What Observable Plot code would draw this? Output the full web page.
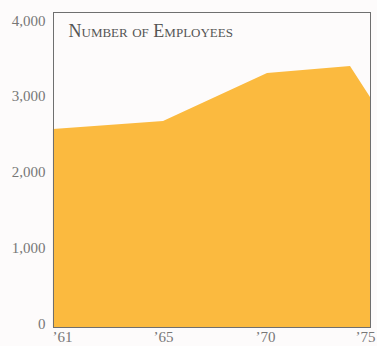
<!DOCTYPE html>
<html>
<head>
<meta charset="utf-8">
<script src="https://cdn.jsdelivr.net/npm/d3@7"></script>
<script src="https://cdn.jsdelivr.net/npm/@observablehq/plot@0.6"></script>
<style>
  html, body { margin: 0; padding: 0; background: #fdfbfb; }
  #chart svg { display: block; background: #fdfbfb; }
</style>
</head>
<body>
<div id="chart"></div>
<script>
// Data
const years = [1960.64, 1965, 1970.1, 1974.25, 1975.25];
const employees = [2565, 2670, 3305, 3398, 2988];
const xTicks = [1961, 1965, 1970, 1975];
const xTickLabels = ["’61", "’65", "’70", "’75"];
const yTicks = [0, 1000, 2000, 3000, 4000];
const title = "Number of Employees";

const data = years.map((year, i) => ({year, value: employees[i]}));
const serif = "'Liberation Serif', 'DejaVu Serif', serif";

const chart = Plot.plot({
  width: 377,
  height: 346,
  marginLeft: 53,
  marginRight: 7,
  marginTop: 12,
  marginBottom: 19,
  style: {background: "#fdfbfb", fontFamily: serif},
  x: {type: "linear", domain: xTicks, range: [62, 163, 265, 365]},
  y: {domain: [-50, 4110]},
  marks: [
    Plot.areaY(data, {x: "year", y1: -50, y2: "value", fill: "#fbba3f", curve: "linear"}),
    Plot.frame({stroke: "#6f6f6f", strokeWidth: 1}),
    Plot.axisY({
      ticks: yTicks,
      tickFormat: d3.format(","),
      tickSize: 0,
      tickPadding: 8,
      fontSize: 15,
      fill: "#777",
      fontFamily: serif,
      label: null
    }),
    Plot.axisX({
      ticks: xTicks,
      tickFormat: (d) => xTickLabels[xTicks.indexOf(d)],
      tickSize: 0,
      tickPadding: 4,
      fontSize: 15,
      fill: "#777",
      fontFamily: serif,
      label: null
    }),
    Plot.text([title], {
      text: (d) => d,
      frameAnchor: "top-left",
      dx: 15,
      dy: 12,
      textAnchor: "start",
      lineAnchor: "top",
      fontSize: 18,
      fontVariant: "small-caps",
      fontFamily: serif,
      fill: "#555"
    })
  ]
});
document.getElementById("chart").appendChild(chart);
</script>
</body>
</html>
